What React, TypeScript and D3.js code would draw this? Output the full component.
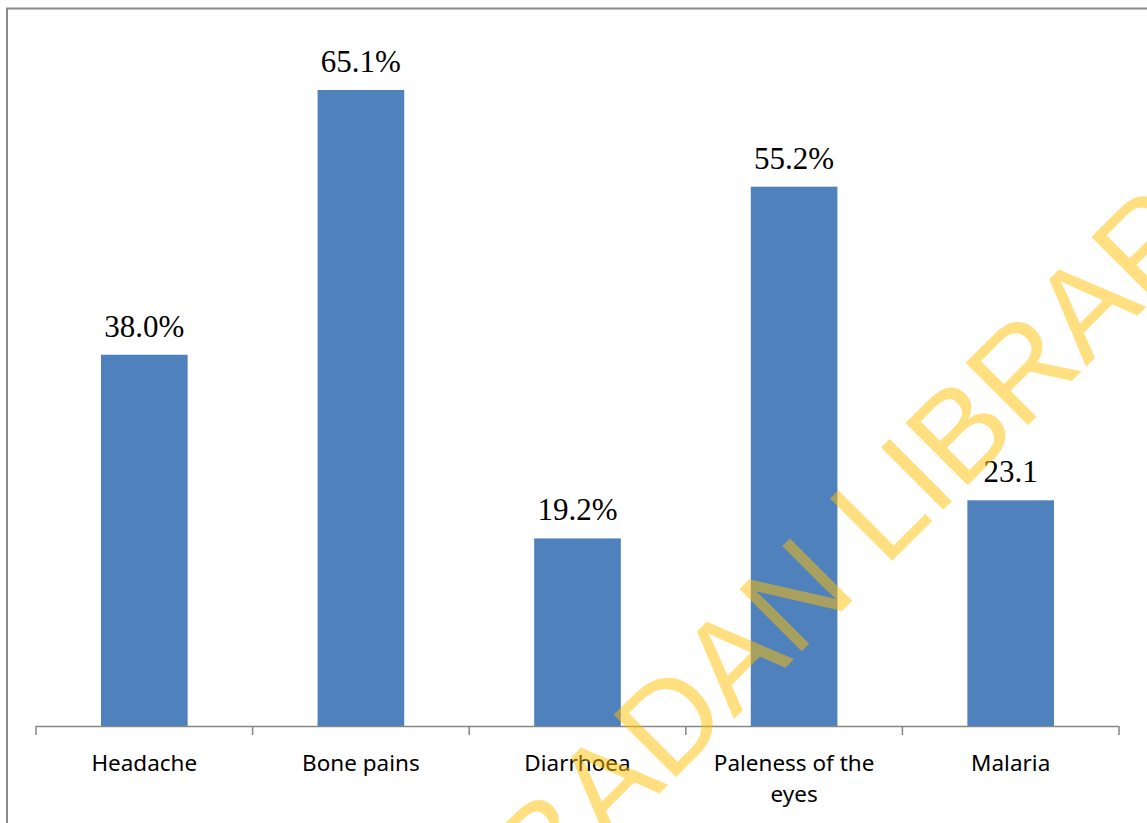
import React, { useEffect, useRef } from "react";
import * as d3 from "d3";

const categories: string[] = ["Headache", "Bone pains", "Diarrhoea", "Paleness of the eyes", "Malaria"];
const values: number[] = [38.0, 65.1, 19.2, 55.2, 23.1];
const valueLabels: string[] = ["38.0%", "65.1%", "19.2%", "55.2%", "23.1"];
const watermarkText = "UNIVERSITY OF IBADAN LIBRARY";

const W = 1147;
const H = 823;

export default function App() {
  const ref = useRef<SVGSVGElement | null>(null);

  useEffect(() => {
    const svg = d3.select(ref.current);
    svg.selectAll("*").remove();

    const left = 36, right = 1119, baseY = 726;
    const x = d3.scaleBand<string>().domain(categories).range([left, right]).paddingInner(0.6).paddingOuter(0.3);
    const y = d3.scaleLinear().domain([0, 70]).range([baseY, baseY - 70 * 9.77]);

    // outer frame (cropped)
    svg.append("rect").attr("x", 7).attr("y", 8.5).attr("width", W + 20).attr("height", H + 20)
      .attr("fill", "#fff").attr("stroke", "#8a8a8a").attr("stroke-width", 2);

    // bars
    svg.append("g").selectAll("rect").data(values).join("rect")
      .attr("x", (_, i) => x(categories[i])!)
      .attr("y", d => y(d))
      .attr("width", x.bandwidth())
      .attr("height", d => baseY - y(d))
      .attr("fill", "#4F81BD");

    // axis
    const step = x.step();
    const g = svg.append("g");
    g.append("line").attr("x1", left).attr("x2", right).attr("y1", baseY + 0.5).attr("y2", baseY + 0.5)
      .attr("stroke", "#868686").attr("stroke-width", 1.5);
    const ticks = d3.range(categories.length + 1).map(i => left + i * step);
    g.selectAll("line.tick").data(ticks).join("line").attr("class", "tick")
      .attr("x1", d => d).attr("x2", d => d).attr("y1", baseY).attr("y2", baseY + 9)
      .attr("stroke", "#868686").attr("stroke-width", 1.5);

    // category labels with wrapping
    const maxW = 185;
    categories.forEach(c => {
      const cx = x(c)! + x.bandwidth() / 2;
      const t = svg.append("text").attr("x", cx).attr("y", 771).attr("text-anchor", "middle")
        .attr("font-family", "'Noto Sans', sans-serif").attr("font-size", 22.5).attr("fill", "#000");
      const words = c.split(" ");
      let line: string[] = [];
      let lineNo = 0;
      let tspan = t.append("tspan").attr("x", cx).attr("y", 771);
      words.forEach(w => {
        line.push(w);
        tspan.text(line.join(" "));
        if ((tspan.node() as SVGTSpanElement).getComputedTextLength() > maxW && line.length > 1) {
          line.pop();
          tspan.text(line.join(" "));
          line = [w];
          lineNo++;
          tspan = t.append("tspan").attr("x", cx).attr("y", 771 + lineNo * 31).text(w);
        }
      });
    });

    // value labels
    svg.append("g").selectAll("text").data(values).join("text")
      .attr("x", (_, i) => x(categories[i])! + x.bandwidth() / 2)
      .attr("y", d => y(d) - 18)
      .attr("text-anchor", "middle")
      .attr("font-family", "'Liberation Serif', 'Times New Roman', serif")
      .attr("font-size", 31)
      .attr("fill", "#000")
      .text((_, i) => valueLabels[i]);

    // watermark
    const fs = 128;
    const offsetL = 11.947 * fs;
    svg.append("text")
      .attr("transform", "translate(886.4,566.6) rotate(-45)")
      .attr("x", -offsetL).attr("y", 0)
      .attr("font-family", "'Liberation Sans', Arial, sans-serif")
      .attr("font-size", fs)
      .attr("fill", "#FFBF00")
      .attr("fill-opacity", 0.5)
      .text(watermarkText);
  }, []);

  return (
    <svg ref={ref} width={W} height={H}
      style={{ position: "absolute", left: 0, top: 0, background: "#fff", display: "block" }} />
  );
}
